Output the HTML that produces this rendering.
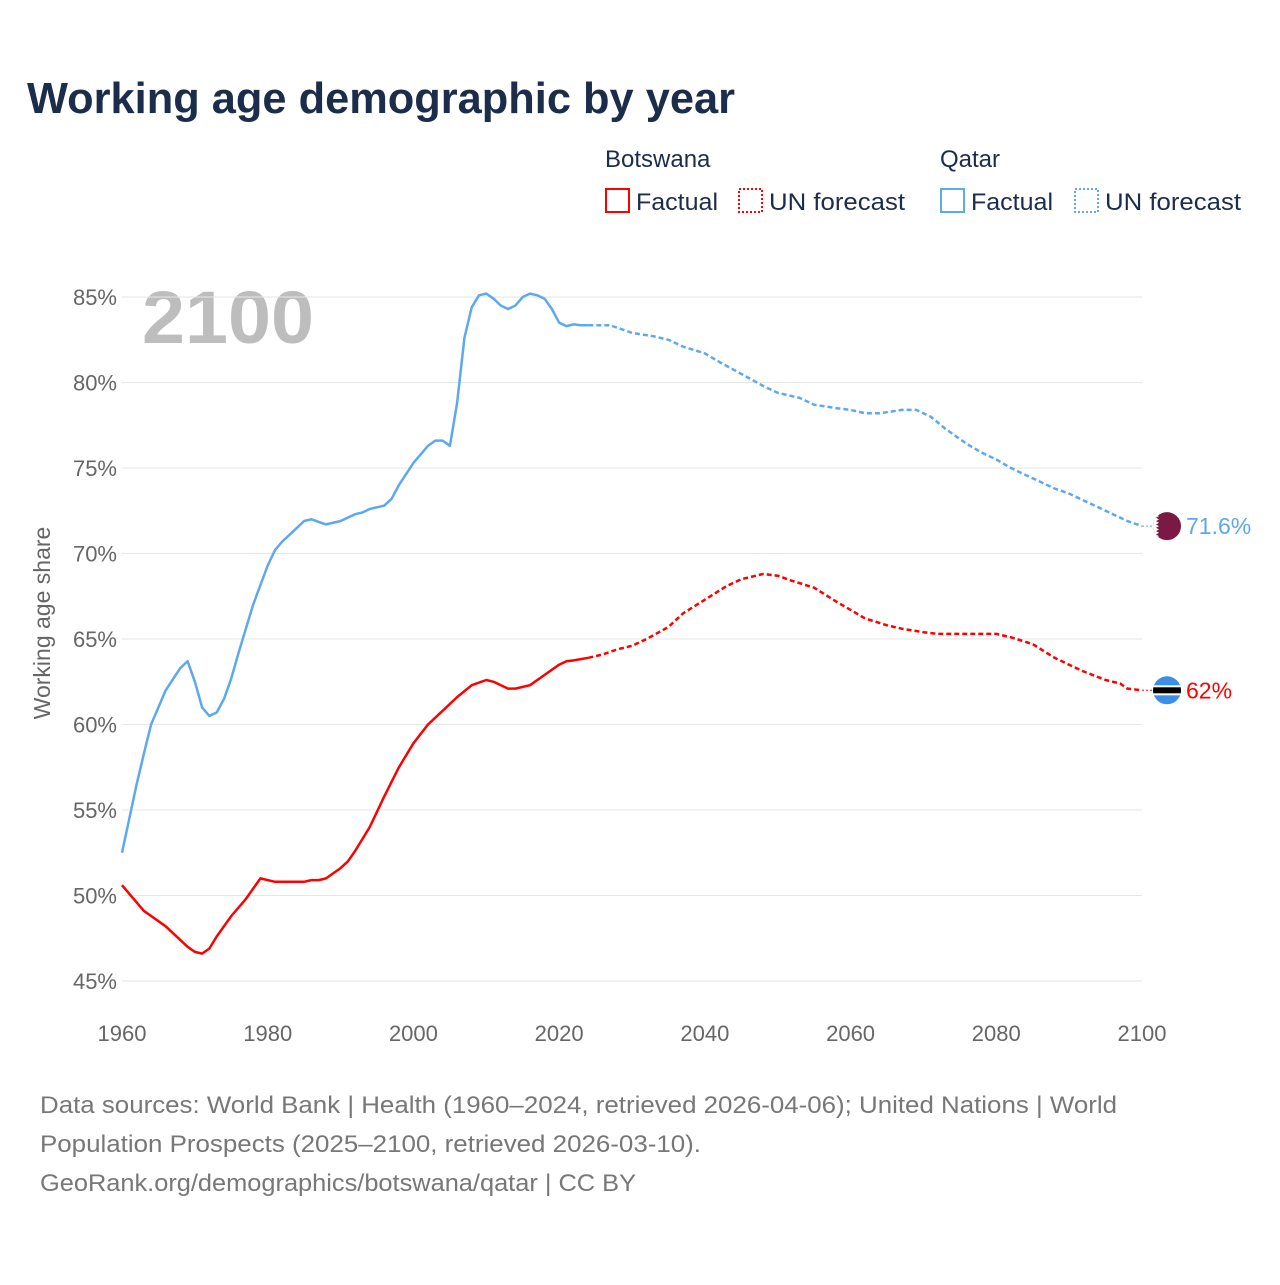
<!DOCTYPE html>
<html><head><meta charset="utf-8"><style>
body{margin:0;background:#fff;}
svg text{font-family:"Liberation Sans",sans-serif;}
</style></head><body>
<svg id="chart" width="1280" height="1280" xmlns="http://www.w3.org/2000/svg">
<rect width="1280" height="1280" fill="#fff"/>
<text x="27" y="113" font-size="44" font-weight="bold" fill="#1b2d4a" textLength="708" lengthAdjust="spacingAndGlyphs">Working age demographic by year</text>
<g font-size="24" fill="#1b2d4a">
<text x="605" y="167">Botswana</text>
<text x="940" y="167">Qatar</text>
<g><rect x="606" y="189" width="23" height="23" fill="none" stroke="#f00" stroke-width="2"/><text x="636" y="210" textLength="82" lengthAdjust="spacingAndGlyphs">Factual</text></g>
<g><rect x="739" y="189" width="23" height="23" fill="none" stroke="#f00" stroke-width="2" stroke-dasharray="2,2"/><text x="769" y="210" textLength="136" lengthAdjust="spacingAndGlyphs">UN forecast</text></g>
<g><rect x="941" y="189" width="23" height="23" fill="none" stroke="#5ea8ee" stroke-width="2"/><text x="971" y="210" textLength="82" lengthAdjust="spacingAndGlyphs">Factual</text></g>
<g><rect x="1075" y="189" width="23" height="23" fill="none" stroke="#5ea8ee" stroke-width="2" stroke-dasharray="2,2"/><text x="1105" y="210" textLength="136" lengthAdjust="spacingAndGlyphs">UN forecast</text></g>
</g>
<text x="142" y="343" font-size="74" font-weight="bold" fill="#bdbdbd" textLength="172" lengthAdjust="spacingAndGlyphs">2100</text>
<g id="grid"></g>
<g id="yticks" font-size="22" fill="#666" text-anchor="end"></g>
<g id="xticks" font-size="22" fill="#666" text-anchor="middle"></g>
<text transform="translate(50,623) rotate(-90)" text-anchor="middle" font-size="23" fill="#666">Working age share</text>
<g id="series"></g>
<g id="ends"></g>
<g font-size="24" fill="#777">
<text x="40" y="1113" textLength="1077" lengthAdjust="spacingAndGlyphs">Data sources: World Bank | Health (1960–2024, retrieved 2026-04-06); United Nations | World</text>
<text x="40" y="1152" textLength="661" lengthAdjust="spacingAndGlyphs">Population Prospects (2025–2100, retrieved 2026-03-10).</text>
<text x="40" y="1191" textLength="596" lengthAdjust="spacingAndGlyphs">GeoRank.org/demographics/botswana/qatar | CC BY</text>
</g>
</svg>
<script>
const xTicks=[1960,1980,2000,2020,2040,2060,2080,2100];
const yTicks=[45,50,55,60,65,70,75,80,85];
const qatarYears=[1960,1962,1963,1964,1966,1968,1969,1970,1971,1972,1973,1974,1975,1976,1978,1980,1981,1982,1984,1985,1986,1988,1990,1992,1993,1994,1996,1997,1998,2000,2002,2003,2004,2005,2006,2007,2008,2009,2010,2011,2012,2013,2014,2015,2016,2017,2018,2019,2020,2021,2022,2023,2024];
const qatarValues=[52.5,56.5,58.3,60.0,62.0,63.3,63.7,62.5,61.0,60.5,60.7,61.5,62.7,64.2,67.0,69.3,70.2,70.7,71.5,71.9,72.0,71.7,71.9,72.3,72.4,72.6,72.8,73.2,74.0,75.3,76.3,76.6,76.6,76.3,78.8,82.6,84.4,85.1,85.2,84.9,84.5,84.3,84.5,85.0,85.2,85.1,84.9,84.3,83.5,83.3,83.4,83.35,83.35];
const qatarFcYears=[2024,2025,2027,2028,2030,2033,2035,2037,2040,2042,2045,2048,2050,2053,2055,2058,2060,2062,2064,2067,2069,2071,2073,2076,2078,2080,2082,2085,2088,2090,2093,2095,2098,2100];
const qatarFcValues=[83.35,83.35,83.35,83.2,82.9,82.7,82.5,82.1,81.7,81.2,80.5,79.8,79.4,79.1,78.7,78.5,78.4,78.2,78.2,78.4,78.4,78.0,77.3,76.4,75.9,75.5,75.0,74.4,73.8,73.5,72.9,72.5,71.9,71.6];
const botsYears=[1960,1963,1966,1969,1970,1971,1972,1973,1975,1977,1979,1981,1983,1985,1986,1987,1988,1990,1991,1992,1994,1996,1998,2000,2002,2004,2006,2008,2010,2011,2012,2013,2014,2016,2018,2020,2021,2022,2024];
const botsValues=[50.6,49.1,48.2,47.0,46.7,46.6,46.9,47.6,48.8,49.8,51.0,50.8,50.8,50.8,50.9,50.9,51.0,51.6,52.0,52.6,54.0,55.8,57.5,58.9,60.0,60.8,61.6,62.3,62.6,62.5,62.3,62.1,62.1,62.3,62.9,63.5,63.7,63.75,63.9];
const botsFcYears=[2024,2026,2028,2030,2032,2035,2037,2040,2043,2045,2048,2050,2052,2055,2058,2060,2062,2065,2067,2070,2072,2075,2080,2082,2085,2088,2090,2092,2095,2097,2098,2100];
const botsFcValues=[63.9,64.1,64.4,64.6,65.0,65.7,66.5,67.3,68.1,68.5,68.8,68.7,68.4,68.0,67.2,66.7,66.2,65.8,65.6,65.4,65.3,65.3,65.3,65.1,64.7,63.9,63.5,63.1,62.6,62.4,62.1,62.0];

const NS="http://www.w3.org/2000/svg";
const X=y=>122+(y-1960)*(1020/140);
const Y=v=>297+(85-v)*17.1;
function mk(tag,attrs,parent){const e=document.createElementNS(NS,tag);for(const k in attrs)e.setAttribute(k,attrs[k]);parent.appendChild(e);return e;}
const grid=document.getElementById('grid'),yt=document.getElementById('yticks'),xt=document.getElementById('xticks');
yTicks.forEach(v=>{
  const l=mk('line',{x1:122,x2:1142,y1:Y(v),y2:Y(v),stroke:'#e6e6e6','stroke-width':1},grid);
  
  
  const t=mk('text',{x:117,y:Y(v)+8},yt);t.textContent=v+'%';
  
  
});
xTicks.forEach(y=>{
  const t=mk('text',{x:X(y),y:1041},xt);t.textContent=y;
  
  
});
const S=document.getElementById('series');
function line(years,vals,color,dash,name){
  const d=years.map((y,i)=>(i?'L':'M')+X(y).toFixed(1)+','+Y(vals[i]).toFixed(1)).join('');
  const p=mk('path',{d:d,fill:'none',stroke:color,'stroke-width':2.5,'stroke-linejoin':'round'},S);
  if(dash)p.setAttribute('stroke-dasharray','5,3');
  
  
}
line(qatarYears,qatarValues,'#5ea8ee',false,'qatar-factual-line');
line(qatarFcYears,qatarFcValues,'#5ea8ee',true,'qatar-forecast-line');
line(botsYears,botsValues,'#ff0000',false,'botswana-factual-line');
line(botsFcYears,botsFcValues,'#ff0000',true,'botswana-forecast-line');

const E=document.getElementById('ends');
const qv=qatarFcValues[qatarFcValues.length-1], bv=botsFcValues[botsFcValues.length-1];
const qy=Y(qv), by=Y(bv);
mk('line',{x1:1142,x2:1153,y1:qy,y2:qy,stroke:'#5ea8ee','stroke-dasharray':'2,2'},E);
mk('line',{x1:1142,x2:1153,y1:by,y2:by,stroke:'#ff0000','stroke-dasharray':'2,2'},E);
const qf=mk('g',{},E);


const qcp=mk('clipPath',{id:'qc'},qf);mk('circle',{cx:1167,cy:qy,r:14},qcp);
const qg=mk('g',{'clip-path':'url(#qc)'},qf);
mk('rect',{x:1150,y:qy-15,width:35,height:30,fill:'#7a1a44'},qg);
let zz='M1150,'+(qy-15);for(let i=0;i<9;i++){const yy=qy-15+i*3.33;zz+=' L1159,'+(yy+1.67).toFixed(1)+' L1156,'+(yy+3.33).toFixed(1);}zz+=' L1150,'+(qy+15)+'Z';
mk('path',{d:zz,fill:'#fff'},qg);
const bf=mk('g',{},E);


const bc=mk('clipPath',{id:'bc'},bf);mk('circle',{cx:1167,cy:by,r:14},bc);
const bg=mk('g',{'clip-path':'url(#bc)'},bf);
mk('rect',{x:1150,y:by-15,width:35,height:30,fill:'#3a8fe8'},bg);
mk('rect',{x:1150,y:by-5,width:35,height:10,fill:'#fff'},bg);
mk('rect',{x:1150,y:by-3,width:35,height:6,fill:'#000'},bg);
const qt=mk('text',{x:1186,y:qy+8,'font-size':23,fill:'#5ea8ee'},E);qt.textContent=qv+'%';


const bt=mk('text',{x:1186,y:by+8,'font-size':23,fill:'#ff0000'},E);bt.textContent=bv+'%';


</script>
</body></html>
